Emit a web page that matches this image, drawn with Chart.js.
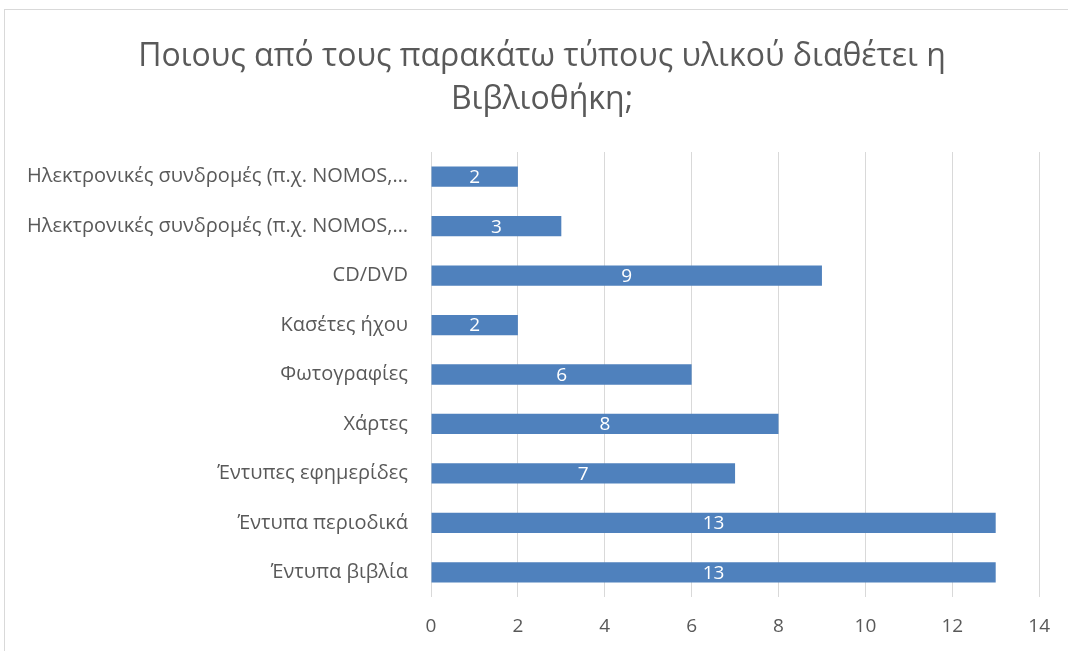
<!DOCTYPE html>
<html lang="el">
<head>
  <meta charset="UTF-8">
  <title>Τύποι υλικού βιβλιοθήκης</title>
  <script src="https://cdn.jsdelivr.net/npm/chart.js"></script>
  <style>
    body {
      margin: 0;
      padding: 0;
      background: #ffffff;
      overflow: hidden;
    }
    .frame {
      position: absolute;
      left: 4px;
      top: 9px;
      width: 1100px;
      height: 700px;
      border: 1px solid #d9d9d9;
    }
    #chartBox {
      position: absolute;
      left: 0;
      top: 0;
      width: 1068px;
      height: 651px;
    }
  </style>
</head>
<body>
  <div class="frame"></div>
  <div id="chartBox">
    <canvas id="materialChart" width="1068" height="651"></canvas>
  </div>

  <script>
    const categories = [
      "Ηλεκτρονικές συνδρομές (π.χ. NOMOS,…",
      "Ηλεκτρονικές συνδρομές (π.χ. NOMOS,…",
      "CD/DVD",
      "Κασέτες ήχου",
      "Φωτογραφίες",
      "Χάρτες",
      "Έντυπες εφημερίδες",
      "Έντυπα περιοδικά",
      "Έντυπα βιβλία"
    ];
    const counts = [2, 3, 9, 2, 6, 8, 7, 13, 13];
    const titleLines = ["Ποιους από τους παρακάτω τύπους υλικού διαθέτει η", "Βιβλιοθήκη;"];

    const fontFamily = "'Open Sans', 'Noto Sans', sans-serif";
    const textColor = "#595959";

    // title is drawn by hand so it can sit centred on the frame, not the canvas
    const frameTitle = {
      id: "frameTitle",
      afterDraw(chart) {
        const ctx = chart.ctx;
        ctx.save();
        ctx.fillStyle = textColor;
        ctx.font = "32px " + fontFamily;
        ctx.textAlign = "center";
        ctx.textBaseline = "middle";
        titleLines.forEach((line, i) => {
          ctx.fillText(line, 542, 57 + i * 43);
        });
        ctx.restore();
      }
    };

    // white labels in the middle of each bar
    const barValues = {
      id: "barValues",
      afterDatasetsDraw(chart) {
        const ctx = chart.ctx;
        const meta = chart.getDatasetMeta(0);
        ctx.save();
        ctx.fillStyle = "#ffffff";
        ctx.font = "19px " + fontFamily;
        ctx.textAlign = "center";
        ctx.textBaseline = "middle";
        meta.data.forEach((bar, i) => {
          const p = bar.getProps(["x", "y", "base"], true);
          ctx.fillText(String(counts[i]), (p.x + p.base) / 2, p.y + 1);
        });
        ctx.restore();
      }
    };

    const ctx = document.getElementById("materialChart").getContext("2d");
    new Chart(ctx, {
      type: "bar",
      data: {
        labels: categories,
        datasets: [{
          data: counts,
          backgroundColor: "#4f81bd",
          borderWidth: 0,
          categoryPercentage: 1,
          barPercentage: 0.41
        }]
      },
      options: {
        indexAxis: "y",
        responsive: false,
        animation: false,
        layout: {
          padding: { left: 0, right: 28, top: 152, bottom: 0 }
        },
        plugins: {
          legend: { display: false },
          tooltip: { enabled: false },
          title: { display: false }
        },
        scales: {
          x: {
            min: 0,
            max: 14,
            ticks: {
              stepSize: 2,
              color: textColor,
              font: { family: fontFamily, size: 19 },
              padding: 18
            },
            grid: {
              color: "#d9d9d9",
              lineWidth: 1,
              drawTicks: false
            },
            border: { display: false },
            afterFit(scale) { scale.height = 54; }
          },
          y: {
            ticks: {
              color: textColor,
              font: { family: fontFamily, size: 20 },
              padding: 15,
              autoSkip: false
            },
            grid: { display: false },
            border: { display: false },
            afterFit(scale) { scale.width = 431; }
          }
        }
      },
      plugins: [barValues, frameTitle]
    });
  </script>
</body>
</html>
